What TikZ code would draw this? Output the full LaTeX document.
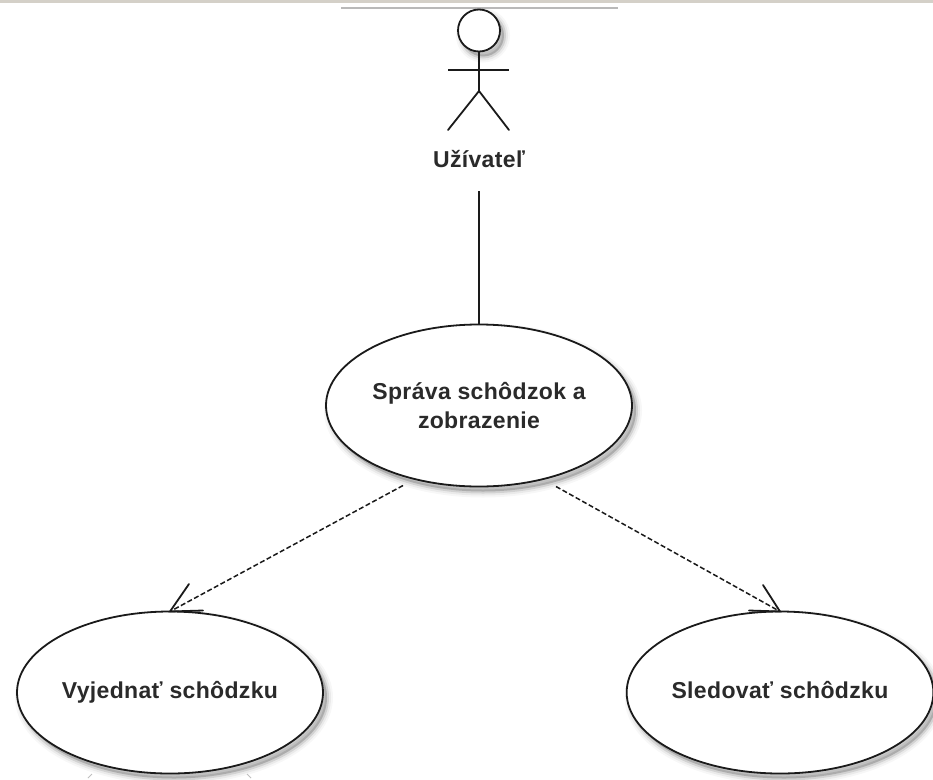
\documentclass[tikz,border=0pt]{standalone}
\usepackage{fontspec}
\setmainfont{Liberation Sans}
\newfontfamily\labelfont[LetterSpace=1.5]{Liberation Sans Bold}
\usetikzlibrary{shapes.geometric}
\definecolor{ink}{HTML}{1A1A1A}
\definecolor{txt}{HTML}{2A2A2A}
\definecolor{topbar}{HTML}{D4D0C8}
\tikzset{
  softshadow/.style={
    preaction={draw=black,fill=black,opacity=.03,line width=12pt,transform canvas={shift={(4pt,-5pt)}}},
    preaction={draw=black,fill=black,opacity=.05,line width=8pt,transform canvas={shift={(4pt,-5pt)}}},
    preaction={draw=black,fill=black,opacity=.10,line width=4pt,transform canvas={shift={(4pt,-5pt)}}}},
  usecase/.style={ellipse,draw=ink,fill=white,line width=1.8pt,minimum width=306pt,minimum height=162pt,
    inner sep=0pt,outer sep=0pt,align=center,softshadow,font=\labelfont\fontsize{23}{29.5}\selectfont,text=txt},
  actorline/.style={draw=ink,line width=1.8pt},
  dep/.style={draw=ink,line width=1.5pt,dash pattern=on 5pt off 2.5pt},
  barb/.style={draw=ink,line width=1.8pt,line cap=round},
  lbl/.style={font=\labelfont\fontsize{23}{29}\selectfont,text=txt,inner sep=0pt}
}
\begin{document}
\begin{tikzpicture}[x=1pt,y=-1pt]
\useasboundingbox (0,0) rectangle (933,779);
\fill[white] (0,0) rectangle (933,779);
\fill[topbar] (0,0) rectangle (933,2.5);
\draw[gray!55,line width=2pt] (341,7.5) -- (618,7.5);
% actor
\coordinate (hip) at (479,91);
\coordinate (armL) at (448,70);
\coordinate (armR) at (509,70);
\coordinate (legL) at (448,130);
\coordinate (legR) at (509,130);
\node[circle,draw=ink,fill=white,line width=1.8pt,minimum size=42pt,inner sep=0pt,outer sep=0pt,softshadow] (head) at (479,30.5) {};
\draw[actorline] (head.south) -- (hip);
\draw[actorline] (armL) -- (armR);
\draw[actorline,line cap=round] (legL) -- (hip) -- (legR);
\node[lbl] (user) at (479,159) {Užívateľ};
\coordinate (stem) at (479,191);
% use cases
\node[usecase] (main) at (479,405.5) {Správa schôdzok a\\zobrazenie};
\node[usecase] (vy) at (170,692.5) {Vyjednať schôdzku};
\node[usecase] (sl) at (780,692.5) {\vphantom{j}Sledovať schôdzku};
\draw[actorline] (stem) -- (main.north);
% dependencies
\coordinate (depL) at (403,485.5);
\coordinate (depR) at (556,486.5);
\draw[dep] (depL) -- (vy.north);
\draw[dep] (depR) -- (sl.north);
\coordinate (vb1) at (189,584);
\coordinate (vb2) at (203,610.5);
\coordinate (sb1) at (763,585);
\coordinate (sb2) at (749,610.5);
\draw[barb] (vb1) -- (vy.north) -- (vb2);
\draw[barb] (sb1) -- (sl.north) -- (sb2);
% clipped fragments at the lower edge
\draw[gray!50,line width=.8pt] (88,778) -- (92,774);
\draw[gray!50,line width=.8pt] (247,774) -- (251,778);
\end{tikzpicture}
\end{document}
